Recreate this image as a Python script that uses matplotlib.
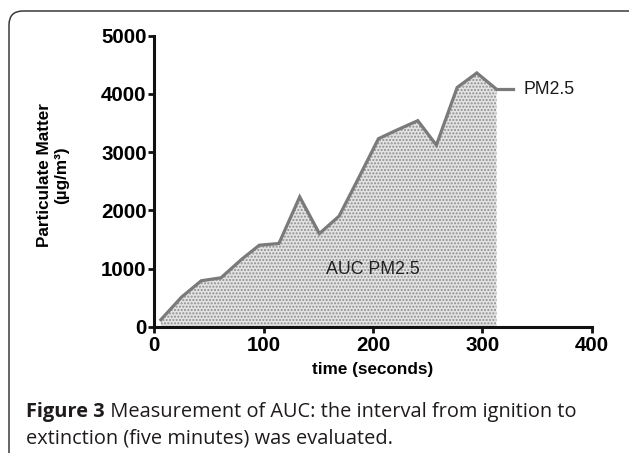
import numpy as np
import matplotlib
matplotlib.use("Agg")
import matplotlib.pyplot as plt
from matplotlib.patches import FancyBboxPatch

plt.rcParams["font.family"] = ["Liberation Sans", "DejaVu Sans"]
plt.rcParams["hatch.linewidth"] = 1.0

# data
time_s = [6, 25, 43, 61, 80, 96, 114, 133, 151, 169, 187, 205, 222, 241, 258, 277, 295, 313]
pm25 = [120, 510, 790, 840, 1160, 1400, 1430, 2230, 1600, 1900, 2560, 3230, 3380, 3540, 3120, 4110, 4360, 4080]

x_ticks = [0, 100, 200, 300, 400]
y_ticks = [0, 1000, 2000, 3000, 4000, 5000]

series_name = "PM2.5"
auc_label = "AUC PM2.5"
caption_bold = "Figure 3"
caption_line1 = " Measurement of AUC: the interval from ignition to"
caption_line2 = "extinction (five minutes) was evaluated."

line_color = "#7a7a7a"

fig = plt.figure(figsize=(6.29, 4.53), dpi=100)

# card frame with rounded corner
frame = FancyBboxPatch((0.09, -0.5), 7.0, 4.92,
                       boxstyle="round,pad=0,rounding_size=0.14",
                       transform=fig.dpi_scale_trans,
                       facecolor="none", edgecolor="#3a3a3a", linewidth=1.1)
fig.patches.append(frame)

ax = fig.add_axes([0.2453, 0.2788, 0.6953, 0.6424])

# shaded area under the curve
ax.fill_between(time_s, pm25, 0, facecolor="#e3e3e3", hatch=".....",
                edgecolor="#8e8e8e", linewidth=0)
ax.plot(time_s, pm25, color=line_color, linewidth=2.3, solid_joinstyle="miter")

# legend-like label at the end of the series
last_t = time_s[-1]
last_v = pm25[-1]
ax.plot([last_t, last_t + 15], [last_v, last_v], color=line_color, linewidth=2.3,
        clip_on=False)
ax.text(last_t + 25, last_v, series_name, fontsize=12.7, va="center", ha="left",
        color="#1a1a1a")

ax.text(200, 990, auc_label, fontsize=12.8, ha="center", va="center", color="#222222")

ax.set_xlim(0, 400)
ax.set_ylim(0, 5000)
ax.set_xticks(x_ticks)
ax.set_yticks(y_ticks)

for side in ["top", "right"]:
    ax.spines[side].set_visible(False)
for side in ["left", "bottom"]:
    ax.spines[side].set_linewidth(2.2)
    ax.spines[side].set_color("#111111")

ax.tick_params(axis="both", direction="out", length=4, width=2, color="#111111",
               labelsize=14.8, pad=1.5)
ax.tick_params(axis="x", pad=2.5)
for lab in ax.get_xticklabels() + ax.get_yticklabels():
    lab.set_fontweight("bold")

ax.set_xlabel("time (seconds)", fontsize=12.3, fontweight="bold", labelpad=5)
ax.set_ylabel("Particulate Matter\n(µg/m³)", fontsize=12.3, fontweight="bold",
              va="center", linespacing=1.15)
ax.yaxis.set_label_coords(-0.232, 0.521)

# caption with bold lead-in
cap_font = ["Open Sans", "DejaVu Sans"]
cap_size = 14.4
t1 = fig.text(0.0413, 0.0795, caption_bold, fontsize=cap_size, fontweight="bold",
              family=cap_font, color="#1f1b1c", va="baseline")
fig.canvas.draw()
bb = t1.get_window_extent(renderer=fig.canvas.get_renderer())
fig.text(bb.x1 / fig.bbox.width, 0.0795, caption_line1, fontsize=cap_size,
         family=cap_font, color="#1f1b1c", va="baseline")
fig.text(0.0413, 0.0199, caption_line2, fontsize=cap_size, family=cap_font,
         color="#1f1b1c", va="baseline")

fig.savefig("out.png", dpi=100)
plt.close(fig)
